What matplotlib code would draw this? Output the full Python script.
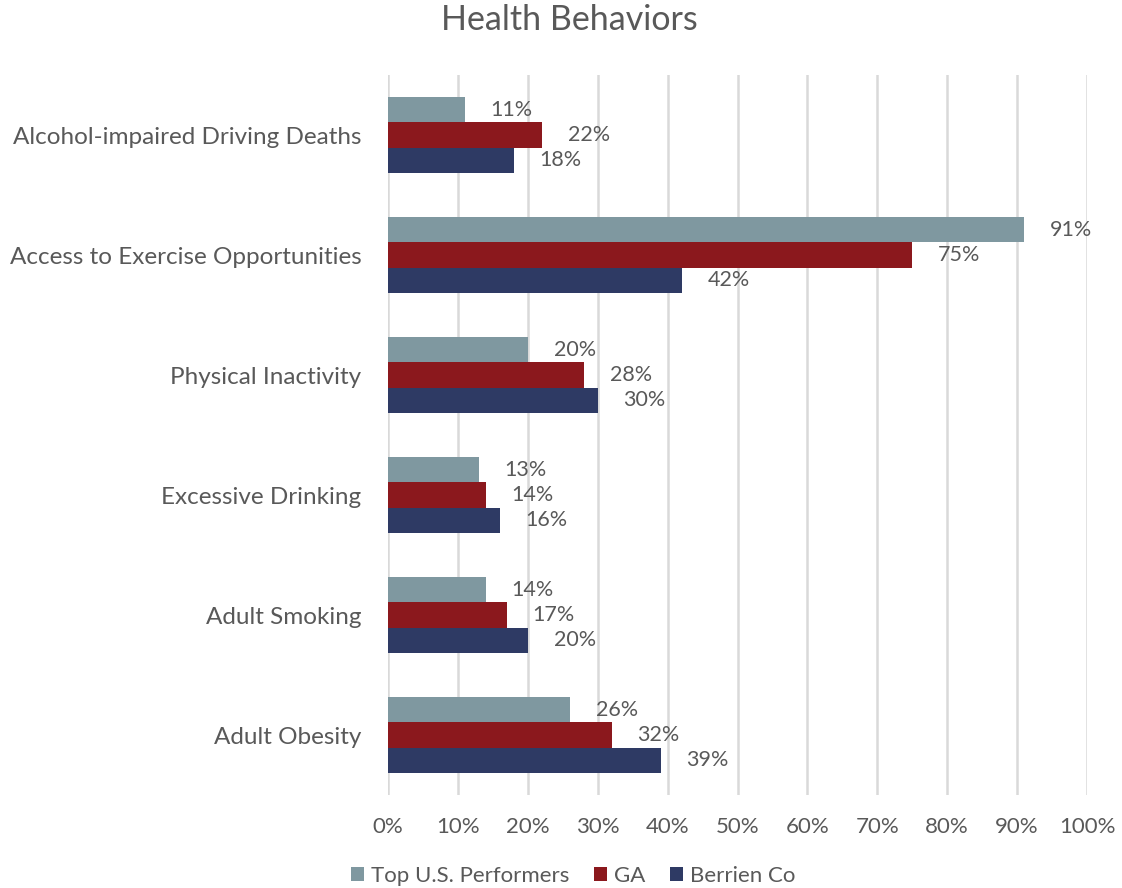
import matplotlib
matplotlib.use("Agg")
import matplotlib.pyplot as plt
import numpy as np

categories = ["Alcohol-impaired Driving Deaths", "Access to Exercise Opportunities",
              "Physical Inactivity", "Excessive Drinking", "Adult Smoking", "Adult Obesity"]
series_names = ["Top U.S. Performers", "GA", "Berrien Co"]
top_us = [11, 91, 20, 13, 14, 26]
ga = [22, 75, 28, 14, 17, 32]
berrien = [18, 42, 30, 16, 20, 39]
colors = ["#7F98A0", "#8B181D", "#2E3A64"]
xticks = [0, 10, 20, 30, 40, 50, 60, 70, 80, 90, 100]

plt.rcParams['font.family'] = ['Lato', 'DejaVu Sans']
txt = "#595959"

fig = plt.figure(figsize=(11.22, 8.88), dpi=100)
ax = fig.add_axes([388/1122, 1-795/888, (1087-388)/1122, 720/888])

y = np.arange(len(categories))
h = 0.209
for i, (vals, name, c) in enumerate(zip([top_us, ga, berrien], series_names, colors)):
    pos = y + (i - 1) * h
    ax.barh(pos, vals, height=h, color=c, label=name, zorder=3)
    for p, v in zip(pos, vals):
        ax.text(v + 3.7, p, f"{v}%", va="center", ha="left", fontsize=15.5, color=txt)

ax.set_ylim(len(categories) - 0.5, -0.5)
ax.set_xlim(0, 100)
ax.set_xticks(xticks)
ax.set_xticklabels([f"{t}%" for t in xticks], fontsize=16, color=txt)
ax.set_yticks(y)
ax.set_yticklabels(categories, fontsize=17.5, color=txt)
ax.tick_params(axis='both', length=0)
ax.tick_params(axis='x', pad=16)
ax.tick_params(axis='y', pad=19)
for s in ax.spines.values():
    s.set_visible(False)
ax.grid(axis='x', color="#D9D9D9", linewidth=1.8, zorder=0)
ax.set_axisbelow(True)

fig.text(569/1122, 1-20/888, "Health Behaviors", ha="center", va="center", fontsize=24.5, color=txt)
leg = fig.legend(loc="center", bbox_to_anchor=(573/1122, 1-876/888), ncol=3, frameon=False,
                 fontsize=16, handlelength=0.6, handleheight=0.6, handletextpad=0.3,
                 columnspacing=1.1)
for t in leg.get_texts():
    t.set_color(txt)

fig.savefig("out.png", dpi=100)
